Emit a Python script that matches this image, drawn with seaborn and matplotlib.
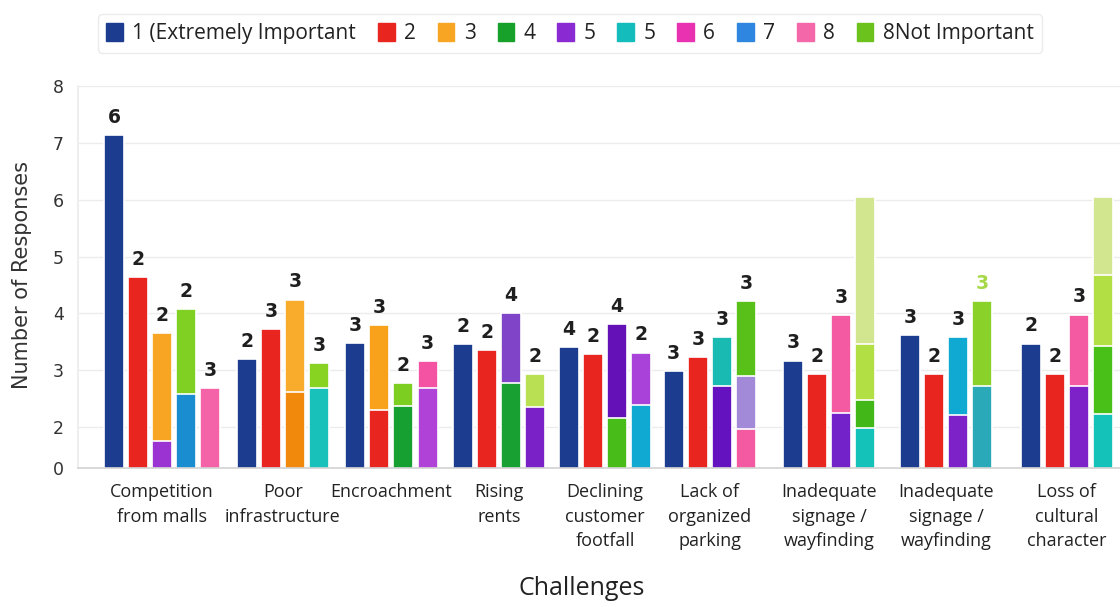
import numpy as np
import pandas as pd
import matplotlib
matplotlib.use("Agg")
import matplotlib.pyplot as plt
from matplotlib.patches import Patch
import seaborn as sns

# ---- data -------------------------------------------------------------
challenges = [
    "Competition\nfrom malls", "Poor\ninfrastructure", "Encroachment",
    "Rising\nrents", "Declining\ncustomer\nfootfall", "Lack of\norganized\nparking",
    "Inadequate\nsignage /\nwayfinding", "Inadequate\nsignage /\nwayfinding",
    "Loss of\ncultural\ncharacter",
]

# stacked segment heights (bottom to top), one list per bar
segment_heights = [
    [[7.13], [4.64], [1.75, 1.90], [2.59, 1.48], [2.69]],
    [[3.19], [3.72], [2.62, 1.62], [2.69, 0.43]],
    [[3.48], [2.30, 1.49], [2.37, 0.40], [2.68, 0.48]],
    [[3.46], [3.35], [2.77, 1.23], [2.36, 0.57]],
    [[3.40], [3.28], [2.16, 1.65], [2.38, 0.93]],
    [[2.98], [3.23], [2.72, 0.86], [1.96, 0.94, 1.32]],
    [[3.17], [2.93], [2.24, 1.73], [1.99, 0.49, 0.99, 2.57]],
    [[3.62], [2.93], [2.22, 1.36], [2.73, 1.49]],
    [[3.47], [2.93], [2.73, 1.25], [2.23, 1.20, 1.24, 1.37]],
]

segment_colors = [
    [["#1b3c8f"], ["#e8261f"], ["#9b32d2", "#f8a524"], ["#1a8cd0", "#80d023"], ["#f462a8"]],
    [["#1b3c8f"], ["#e8261f"], ["#f0890c", "#f9ab2c"], ["#18c2ba", "#88d222"]],
    [["#1b3c8f"], ["#e8261f", "#f8a21c"], ["#17a032", "#7ccf20"], ["#b042d8", "#f452a2"]],
    [["#1b3c8f"], ["#e8261f"], ["#18a032", "#8044c8"], ["#7a22c8", "#b9e052"]],
    [["#1b3c8f"], ["#e8261f"], ["#48bc18", "#6412b8"], ["#10a9d2", "#a842d8"]],
    [["#1b3c8f"], ["#e8261f"], ["#6412c0", "#18bab2"], ["#f45aa2", "#a28ad8", "#58c018"]],
    [["#1b3c8f"], ["#e8261f"], ["#7222c8", "#f45aa2"], ["#14c2ba", "#42b818", "#b2e044", "#d2e690"]],
    [["#1b3c8f"], ["#e8261f"], ["#7c22c8", "#10a9d2"], ["#2aaab8", "#8ad22a"]],
    [["#1b3c8f"], ["#e8261f"], ["#7c22c8", "#f45aa2"], ["#14c2ba", "#48c018", "#b2e044", "#d2e690"]],
]

bar_labels = [
    ["6", "2", "2", "2", "3"],
    ["2", "3", "3", "3"],
    ["3", "3", "2", "3"],
    ["2", "2", "4", "2"],
    ["4", "2", "4", "2"],
    ["3", "3", "3", "3"],
    ["3", "2", "3", None],
    ["3", "2", "3", "3"],
    ["2", "2", "3", None],
]
bar_label_colors = [
    ["#1f1f1f"] * 5,
    ["#1f1f1f"] * 4, ["#1f1f1f"] * 4, ["#1f1f1f"] * 4, ["#1f1f1f"] * 4,
    ["#1f1f1f"] * 4, ["#1f1f1f"] * 4,
    ["#1f1f1f", "#1f1f1f", "#1f1f1f", "#a6d848"],
    ["#1f1f1f"] * 4,
]

legend_labels = ["1 (Extremely Important", "2", "3", "4", "5", "5", "6", "7", "8",
                 "8Not Important"]
legend_colors = ["#1b3c8f", "#e8261f", "#f8a524", "#17a02a", "#8a2ad2", "#14bcbc",
                 "#e832b2", "#2f86e0", "#f467a8", "#6cc21c"]

y_tick_labels = ["0", "2", "3", "4", "5", "6", "7", "8"]

# ---- layout -------------------------------------------------------------
group_gaps = [0.5, 0.5, 0.45, 0.4, 0.35, 0.95, 0.85, 1.0]
y_floor = 1.28

rows = []
label_rows = []
group_centers = []
cursor = 0.0
for g, bars in enumerate(segment_heights):
    positions = []
    for b, heights in enumerate(bars):
        pos = round(cursor + b, 3)
        positions.append(pos)
        tops = np.cumsum(heights)
        for k, top in enumerate(tops):
            rows.append({"pos": pos, "top": float(top), "seg": f"{g}-{b}-{k}",
                         "color": segment_colors[g][b][k]})
        label_rows.append((pos, float(tops[-1]), bar_labels[g][b], bar_label_colors[g][b]))
    group_centers.append(float(np.mean(positions)))
    cursor += len(bars) + (group_gaps[g] if g < len(group_gaps) else 0)

df = pd.DataFrame(rows)
# taller stacks first so lower segments are painted over them
hue_order = list(df.sort_values("top", ascending=False)["seg"])
palette = dict(zip(df["seg"], df["color"]))

# ---- figure -------------------------------------------------------------
sns.set_theme(style="white")
plt.rcParams["font.family"] = ["Open Sans", "DejaVu Sans"]

fig = plt.figure(figsize=(11.2, 6.07), dpi=100)
ax = fig.add_axes([78 / 1120, 1 - 468 / 607, 1 - 78 / 1120, (468 - 86) / 607])

sns.barplot(data=df, x="pos", y="top", hue="seg", hue_order=hue_order,
            palette=palette, native_scale=True, dodge=False, width=0.83,
            saturation=1, errorbar=None, legend=False, edgecolor="white",
            linewidth=1.2, ax=ax)

for pos, top, text, col in label_rows:
    if text is None:
        continue
    ax.annotate(text, (pos, top), xytext=(0, 6), textcoords="offset points",
                ha="center", va="bottom", fontsize=13.5, fontweight="bold",
                color=col, family="DejaVu Sans")

ax.set_xlim(-1.49, 41.7)
ax.set_ylim(y_floor, 8)
ax.set_yticks([y_floor, 2, 3, 4, 5, 6, 7, 8])
ax.set_yticklabels(y_tick_labels, family="DejaVu Sans", fontsize=12.5, color="#333333")
ax.set_xticks(group_centers)
ax.set_xticklabels(challenges, fontsize=13, color="#222222", linespacing=1.45)
ax.tick_params(axis="both", length=0)
ax.tick_params(axis="y", pad=10)
ax.tick_params(axis="x", pad=11)

ax.grid(axis="y", color="#ececec", linewidth=1)
ax.set_axisbelow(True)
for side in ["top", "right"]:
    ax.spines[side].set_visible(False)
ax.spines["left"].set_color("#ececec")
ax.spines["bottom"].set_color("#d4d4d4")

ax.set_ylabel("Number of Responses", fontsize=15, color="#333333", family="DejaVu Sans")
ax.yaxis.set_label_coords(-0.044, 0.505)
ax.set_xlabel("Challenges", fontsize=18, color="#222222")
ax.xaxis.set_label_coords(0.483, -0.283)

handles = [Patch(facecolor=c, edgecolor=c) for c in legend_colors]
leg = fig.legend(handles, legend_labels, loc="upper center",
                 bbox_to_anchor=(570 / 1120, 1 - 4 / 607), ncol=10, fontsize=15,
                 frameon=True, fancybox=True, handlelength=0.8, handleheight=1.0,
                 handletextpad=0.45, columnspacing=1.05, borderpad=0.4)
leg.get_frame().set_edgecolor("#e6e6e6")
leg.get_frame().set_linewidth(1)
for t in leg.get_texts():
    t.set_color("#222222")

fig.savefig("out.png", dpi=100)
